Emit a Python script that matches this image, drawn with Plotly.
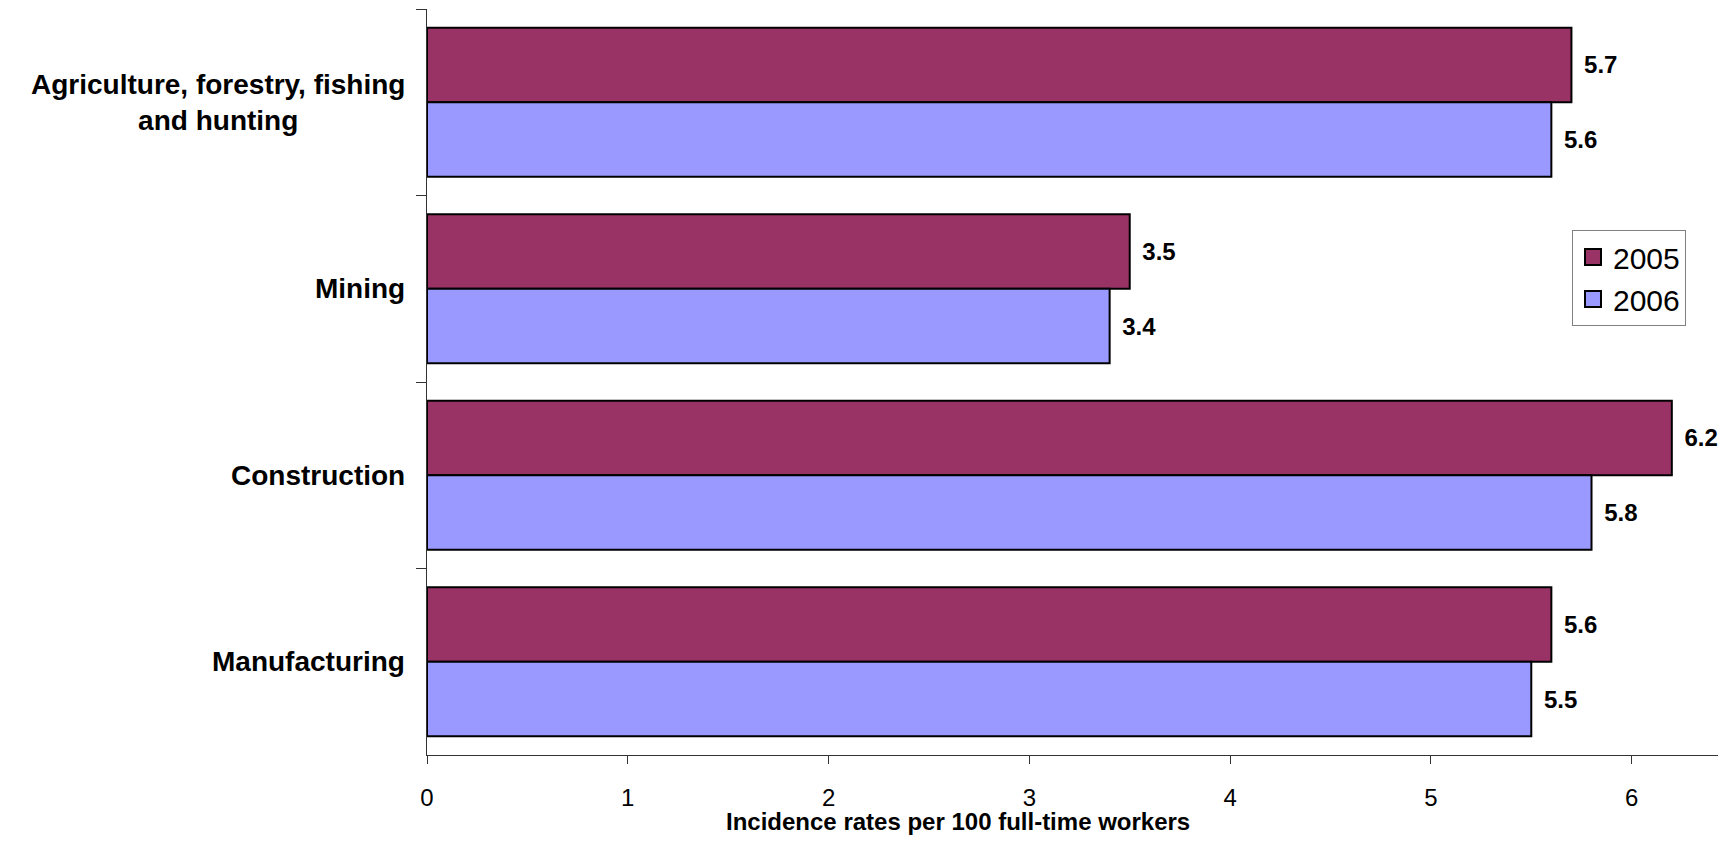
import plotly.graph_objects as go

categories = ["Agriculture, forestry, fishing<br>and hunting", "Mining", "Construction", "Manufacturing"]
series_names = ["2005", "2006"]
values_2005 = [5.7, 3.5, 6.2, 5.6]
values_2006 = [5.6, 3.4, 5.8, 5.5]
x_ticks = [0, 1, 2, 3, 4, 5, 6]
x_title = "Incidence rates per 100 full-time workers"

FONT = "Liberation Sans, Arial, sans-serif"
colors = ["#993366", "#9999FF"]

W, H = 1710, 827  # page body has an 8px margin
L, T, B = 419, 1, 80
plot_w = W - L

fig = go.Figure()
for name, vals, col in zip(series_names, [values_2005, values_2006], colors):
    fig.add_trace(go.Bar(
        y=categories, x=vals, name=name, orientation="h", showlegend=False,
        marker=dict(color=col, line=dict(color="black", width=2)),
        text=[f"{v:.1f}" for v in vals], textposition="outside",
        textfont=dict(family=FONT, size=24, color="black"),
        texttemplate="\u2009\u2009<b>%{text}</b>", cliponaxis=False,
    ))
# legend proxies with larger square symbols
for name, col in zip(series_names, colors):
    fig.add_trace(go.Scatter(
        x=[None], y=[None], mode="markers", name=name, legendgroup=name,
        marker=dict(symbol="square", size=18, color=col,
                    line=dict(color="black", width=2)),
    ))

for c in categories:
    fig.add_annotation(
        x=0, xref="paper", y=c, yref="y", text=f"<b>{c}</b>",
        showarrow=False, xanchor="right", align="center", xshift=-20,
        font=dict(family=FONT, size=28, color="black"),
    )

fig.add_annotation(
    x=(950 - L) / plot_w, xref="paper", y=0, yref="paper",
    text=f"<b>{x_title}</b>", showarrow=False, yanchor="top",
    font=dict(family=FONT, size=24, color="black"), yshift=-51,
)

fig.update_layout(
    width=W, height=H,
    margin=dict(l=L, r=0, t=T, b=B),
    barmode="group", bargap=0.2, bargroupgap=0,
    plot_bgcolor="white", paper_bgcolor="white",
    font=dict(family=FONT, size=24, color="black"),
    showlegend=True,
    legend=dict(
        x=(1564 - L) / plot_w, y=0.7037, xanchor="left", yanchor="top",
        bgcolor="white", bordercolor="#808080", borderwidth=1,
        font=dict(family=FONT, size=30, color="black"),
        traceorder="normal", tracegroupgap=8,
    ),
    xaxis=dict(
        range=[0, 6.43], tickvals=x_ticks, ticks="outside", ticklen=8,
        tickcolor="#333", showline=True, linecolor="#333", linewidth=1,
        showgrid=False, zeroline=False, ticklabelstandoff=13,
        tickfont=dict(family=FONT, size=24, color="black"),
    ),
    yaxis=dict(
        autorange="reversed", showticklabels=False, ticks="outside",
        ticklen=10, tickcolor="#333", tickson="boundaries",
        showline=True, linecolor="#333", linewidth=1, showgrid=False,
    ),
)

fig.write_html("out.html")
